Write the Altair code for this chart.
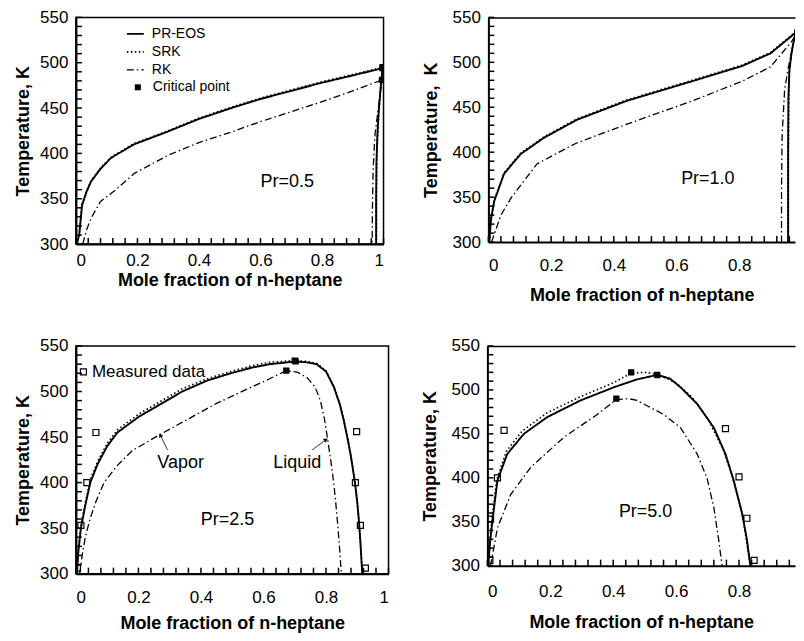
import math
import altair as alt
import pandas as pd

FONT = "Liberation Sans"
SERIES = ["PR-EOS", "SRK", "RK"]
DASHES = [[1, 0], [1.5, 2.5], [7, 3, 1.5, 3]]
WIDTHS = [1.9, 1.3, 1.3]
TICK_PX = 6

X_MAJOR = [0, 0.2, 0.4, 0.6, 0.8, 1.0]
X_MINOR = [0, 0.04, 0.08, 0.12, 0.16, 0.2, 0.24, 0.28, 0.32, 0.36, 0.4, 0.44, 0.48,
           0.52, 0.56, 0.6, 0.64, 0.68, 0.72, 0.76, 0.8, 0.84, 0.88, 0.92, 0.96, 1.0]
Y_MAJOR = [300, 350, 400, 450, 500, 550]
Y_MINOR = [300, 310, 320, 330, 340, 350, 360, 370, 380, 390, 400, 410, 420, 430, 440,
           450, 460, 470, 480, 490, 500, 510, 520, 530, 540, 550]

# ---------------- Pr = 0.5 ----------------
A_PR_X = [0.003, 0.011, 0.02, 0.035, 0.049, 0.08, 0.114, 0.189, 0.298, 0.4, 0.514, 0.6, 0.7, 0.8, 0.9, 0.997,
          0.99, 0.984, 0.98, 0.977, 0.976, 0.976]
A_PR_T = [300, 311, 343, 358, 369, 383, 395, 410, 424, 438, 451, 460, 469, 478, 486, 494,
          470, 445, 420, 390, 350, 300]
A_SRK_X = [0.003, 0.011, 0.02, 0.035, 0.05, 0.08, 0.115, 0.19, 0.3, 0.4, 0.515, 0.6, 0.7, 0.8, 0.9, 0.997,
           0.99, 0.985, 0.981, 0.978, 0.977, 0.977]
A_SRK_T = [300, 312, 344, 359, 370, 384, 396, 411, 425, 439, 452, 461, 470, 479, 487, 495,
           471, 446, 421, 391, 350, 300]
A_RK_X = [0.022, 0.035, 0.05, 0.08, 0.13, 0.19, 0.3, 0.4, 0.5, 0.6, 0.7, 0.8, 0.9, 0.995,
          0.985, 0.972, 0.966, 0.964, 0.963]
A_RK_T = [300, 316, 329, 347, 360, 378, 398, 412, 423, 435, 446, 457, 469, 481,
          455, 420, 380, 340, 300]
A_CRIT_X = [0.997, 0.997, 0.995]
A_CRIT_T = [494, 495, 481]

# ---------------- Pr = 1.0 ----------------
B_PR_X = [0.003, 0.008, 0.019, 0.05, 0.103, 0.177, 0.282, 0.44, 0.65, 0.81, 0.9, 0.98, 0.99,
          0.985, 0.979, 0.972, 0.966, 0.96, 0.957, 0.956, 0.956]
B_PR_T = [300, 325, 346, 376, 398, 416, 436, 457, 479, 496, 510, 533, 538,
          538, 531, 520, 508, 490, 460, 400, 300]
B_SRK_X = [0.003, 0.008, 0.019, 0.05, 0.103, 0.177, 0.282, 0.44, 0.65, 0.81, 0.9, 0.98, 0.99,
           0.985, 0.979, 0.972, 0.966, 0.96, 0.958, 0.957, 0.957]
B_SRK_T = [300, 326, 347, 377, 399, 417, 437, 458, 480, 497, 511, 534, 539,
           539, 532, 521, 509, 491, 461, 400, 300]
B_RK_X = [0.01, 0.019, 0.04, 0.072, 0.155, 0.28, 0.44, 0.65, 0.81, 0.9, 0.967, 0.985,
          0.979, 0.972, 0.956, 0.945, 0.943, 0.937, 0.935, 0.935]
B_RK_T = [300, 309, 330, 349, 387, 410, 431, 457, 479, 495, 523, 533,
          533, 520, 493, 470, 457, 420, 360, 300]
B_CRIT_X = [0.99, 0.99, 0.985]
B_CRIT_T = [538, 539, 533]

# ---------------- Pr = 2.5 ----------------
C_PR_X = [0.003, 0.008, 0.016, 0.03, 0.046, 0.069, 0.1, 0.133, 0.2, 0.28, 0.34, 0.42, 0.495, 0.56, 0.62, 0.703,
          0.74, 0.77, 0.8, 0.825, 0.845, 0.857, 0.868, 0.878, 0.886, 0.894, 0.9, 0.905, 0.91, 0.916]
C_PR_T = [300, 325, 350, 375, 400, 420, 440, 455, 472, 488, 500, 512, 520, 526, 530, 533,
          532, 530, 522, 505, 485, 468, 450, 432, 415, 396, 378, 359, 335, 300]
C_SRK_X = [0.003, 0.008, 0.016, 0.03, 0.046, 0.069, 0.1, 0.133, 0.2, 0.28, 0.34, 0.42, 0.495, 0.56, 0.62, 0.7,
           0.74, 0.77, 0.8, 0.825, 0.845, 0.857, 0.868, 0.878, 0.886, 0.894, 0.9, 0.905, 0.91, 0.916]
C_SRK_T = [300, 327, 353, 378, 403, 423, 443, 458, 475, 491, 503, 514, 522, 528, 532, 534,
           533, 531, 523, 506, 486, 469, 451, 433, 416, 397, 379, 360, 335, 300]
C_RK_X = [0.012, 0.02, 0.03, 0.045, 0.065, 0.09, 0.13, 0.18, 0.27, 0.35, 0.45, 0.55, 0.62, 0.673,
          0.71, 0.74, 0.765, 0.782, 0.795, 0.805, 0.815, 0.825, 0.832, 0.838, 0.844, 0.849]
C_RK_T = [300, 320, 340, 360, 380, 400, 418, 435, 453, 468, 487, 503, 514, 523,
          521, 515, 505, 490, 470, 448, 425, 399, 375, 352, 325, 300]
C_CRIT_X = [0.703, 0.7, 0.673]
C_CRIT_T = [533, 534, 523]
C_MEAS_X = [0.005, 0.016, 0.035, 0.064, 0.926, 0.91, 0.894, 0.898]
C_MEAS_T = [306, 353, 400, 455, 306, 353, 400, 456]

# ---------------- Pr = 5.0 ----------------
D_PR_X = [0.003, 0.008, 0.016, 0.032, 0.063, 0.116, 0.19, 0.296, 0.402, 0.476, 0.54,
          0.58, 0.614, 0.667, 0.72, 0.757, 0.783, 0.81, 0.825, 0.836]
D_PR_T = [300, 325, 351, 397, 427, 450, 469, 488, 503, 512, 517,
          513, 503, 484, 457, 427, 397, 359, 330, 300]
D_SRK_X = [0.003, 0.008, 0.015, 0.03, 0.06, 0.11, 0.19, 0.3, 0.4, 0.457, 0.5, 0.54, 0.6, 0.65, 0.7,
           0.75, 0.78, 0.81, 0.836]
D_SRK_T = [300, 330, 355, 398, 430, 453, 474, 493, 508, 519, 520, 518, 508, 492, 468,
           432, 400, 360, 300]
D_RK_X = [0.008, 0.011, 0.032, 0.074, 0.138, 0.243, 0.349, 0.41, 0.45, 0.476, 0.561, 0.614, 0.667, 0.698,
          0.72, 0.736, 0.746]
D_RK_T = [300, 302, 343, 381, 412, 446, 472, 489, 490, 488, 472, 457, 427, 400,
          366, 328, 300]
D_CRIT_X = [0.54, 0.457, 0.41]
D_CRIT_T = [517, 520, 490]
D_MEAS_X = [0.008, 0.01, 0.032, 0.053, 0.757, 0.8, 0.825, 0.848]
D_MEAS_T = [306, 353, 400, 454, 456, 401, 354, 306]

# panel labels
PR_LABELS = ["Pr=0.5", "Pr=1.0", "Pr=2.5", "Pr=5.0"]
PR_LABEL_X = [0.687, 0.70, 0.485, 0.503]
PR_LABEL_T = [369, 370, 359, 361]

# annotations in the Pr=2.5 panel
NOTE_TEXT = ["Vapor", "Liquid"]
NOTE_X = [0.335, 0.708]
NOTE_T = [421, 421]
ARROW_TAIL_X = [0.293, 0.756]
ARROW_TAIL_T = [436, 436]
ARROW_TIP_X = [0.27, 0.80]
ARROW_TIP_T = [452, 447]


def curve_frame(pr, srk, rk):
    rows = []
    for name, (xs, ts) in zip(SERIES, (pr, srk, rk)):
        for i, (x, t) in enumerate(zip(xs, ts)):
            rows.append({"series": name, "x": x, "T": t, "i": i})
    return pd.DataFrame(rows)


def panel(curves, crit, label_idx, w, h, xmax, right_open, lab_pad, title_pad, ytitle_pad, ytitle,
          legend_lines=False, legend_crit=False, measured=None, legend_measured=False, notes=False):
    xs = alt.Scale(domain=[0, xmax], nice=False, zero=False)
    ys = alt.Scale(domain=[300, 550], nice=False, zero=False)
    xmaj = [v for v in X_MAJOR if v <= xmax + 1e-9]
    xmin = [v for v in X_MINOR if v <= xmax + 1e-9]

    def X(field, axis=None):
        return alt.X(field, scale=xs, axis=axis)

    def Y(field, axis=None):
        return alt.Y(field, scale=ys, axis=axis)

    main_x = alt.Axis(orient="bottom", values=xmaj, format=".1~f", title="Mole fraction of n-heptane",
                      ticks=False, domain=True, domainWidth=2, domainColor="black",
                      labelPadding=lab_pad, titlePadding=title_pad, grid=False)
    main_y = alt.Axis(orient="left", values=Y_MAJOR, format="d", title=ytitle, ticks=False,
                      domain=True, domainWidth=2, domainColor="black",
                      labelPadding=8, titlePadding=ytitle_pad, grid=False)

    if legend_lines:
        dash_legend = alt.Legend(orient="none", legendX=50, legendY=7, title=None, padding=0,
                                 labelFont=FONT, labelFontSize=14, labelColor="black",
                                 symbolType="stroke", symbolSize=289, symbolStrokeWidth=1.4,
                                 symbolStrokeColor="black", labelOffset=7, rowPadding=1)
    else:
        dash_legend = None

    lines = alt.Chart(curves).mark_line(color="black", clip=True).encode(
        x=X("x:Q", main_x),
        y=Y("T:Q", main_y),
        strokeDash=alt.StrokeDash("series:N", scale=alt.Scale(domain=SERIES, range=DASHES),
                                  legend=dash_legend),
        strokeWidth=alt.StrokeWidth("series:N", scale=alt.Scale(domain=SERIES, range=WIDTHS),
                                    legend=None),
        order=alt.Order("i:Q"),
    )

    # inward minor ticks along the bottom and left edges (tick positions from the tick lists)
    xt_df = pd.DataFrame({"tx": xmin, "tT": [300.0] * len(xmin),
                          "tT2": [300 + TICK_PX * 250.0 / h] * len(xmin)})
    yt_df = pd.DataFrame({"tx": [0.0] * len(Y_MINOR), "tx2": [TICK_PX * xmax / w] * len(Y_MINOR),
                          "tT": [float(v) for v in Y_MINOR]})
    xticks = alt.Chart(xt_df).mark_rule(color="black", strokeWidth=1.5, opacity=1).encode(
        x=X("tx:Q"), y=Y("tT:Q"), y2="tT2:Q")
    yticks = alt.Chart(yt_df).mark_rule(color="black", strokeWidth=1.5, opacity=1).encode(
        x=X("tx:Q"), x2="tx2:Q", y=Y("tT:Q"))

    crit_df = pd.DataFrame({"x": crit[0], "T": crit[1], "kind": ["Critical point"] * len(crit[0])})
    crit_enc = dict(x=X("x:Q"), y=Y("T:Q"))
    if legend_crit:
        crit_enc["shape"] = alt.Shape("kind:N", scale=alt.Scale(range=["square"]),
                                      legend=alt.Legend(orient="none", legendX=55, legendY=63, title=None,
                                                        padding=0, labelFont=FONT, labelFontSize=14,
                                                        labelColor="black", symbolFillColor="black",
                                                        symbolStrokeColor="black", symbolSize=36,
                                                        labelOffset=8))
    crit_layer = alt.Chart(crit_df).mark_point(shape="square", filled=True, color="black", size=40,
                                               opacity=1, clip=True).encode(**crit_enc)

    top_axis = None
    if right_open:
        top_axis = alt.Axis(orient="top", labels=False, ticks=False, domain=True, domainWidth=1.5,
                            domainColor="black", title=None, grid=False)
    lab_df = pd.DataFrame({"x": [PR_LABEL_X[label_idx]], "T": [PR_LABEL_T[label_idx]],
                           "text": [PR_LABELS[label_idx]]})
    label_layer = alt.Chart(lab_df).mark_text(font=FONT, fontSize=18, color="black", align="center",
                                              baseline="middle").encode(
        x=X("x:Q", top_axis), y=Y("T:Q"), text="text:N")

    layers = [lines, crit_layer, label_layer]

    if measured is not None:
        m_df = pd.DataFrame({"x": measured[0], "T": measured[1], "kind": ["Measured data"] * len(measured[0])})
        m_enc = dict(x=X("x:Q"), y=Y("T:Q"))
        if legend_measured:
            m_enc["shape"] = alt.Shape("kind:N", scale=alt.Scale(range=["square"]),
                                       legend=alt.Legend(orient="none", legendX=-1, legendY=17.4, title=None,
                                                         padding=0, labelFont=FONT, labelFontSize=17,
                                                         labelColor="black", symbolStrokeColor="black",
                                                         symbolFillColor="white", symbolStrokeWidth=1.2,
                                                         symbolSize=36, labelOffset=0))
        layers.append(alt.Chart(m_df).mark_point(shape="square", filled=False, color="black", size=36,
                                                 strokeWidth=1.2, opacity=1, clip=True).encode(**m_enc))

    if notes:
        px_x = w / xmax
        px_t = h / 250.0
        angles = []
        for tx, tt, hx, ht in zip(ARROW_TAIL_X, ARROW_TAIL_T, ARROW_TIP_X, ARROW_TIP_T):
            dx = (hx - tx) * px_x
            dy = -(ht - tt) * px_t
            angles.append(math.degrees(math.atan2(dx, -dy)) % 360)
        n_df = pd.DataFrame({"x": NOTE_X, "T": NOTE_T, "text": NOTE_TEXT})
        a_df = pd.DataFrame({"x": ARROW_TAIL_X, "T": ARROW_TAIL_T, "x2": ARROW_TIP_X, "T2": ARROW_TIP_T,
                             "ang": angles})
        layers.append(alt.Chart(n_df).mark_text(font=FONT, fontSize=18, color="black", align="center",
                                                baseline="middle").encode(
            x=X("x:Q"), y=Y("T:Q"), text="text:N"))
        layers.append(alt.Chart(a_df).mark_rule(color="black", strokeWidth=0.8).encode(
            x=X("x:Q"), y=Y("T:Q"), x2="x2:Q", y2="T2:Q"))
        layers.append(alt.Chart(a_df).mark_point(shape="triangle-up", filled=True, color="black", size=22,
                                                 opacity=1).encode(
            x=X("x2:Q"), y=Y("T2:Q"), angle=alt.Angle("ang:Q", scale=None)))

    layers.append(xticks)
    layers.append(yticks)

    p = alt.layer(*layers).resolve_axis(x="independent", y="independent")
    props = dict(width=w, height=h)
    if right_open:
        props["view"] = alt.ViewBackground(stroke="transparent")
    return p.properties(**props)


pA = panel(curve_frame((A_PR_X, A_PR_T), (A_SRK_X, A_SRK_T), (A_RK_X, A_RK_T)), (A_CRIT_X, A_CRIT_T), 0,
           308, 227, 1.0, False, 8, 3, 7, "Temperature, K", legend_lines=True, legend_crit=True)
pB = panel(curve_frame((B_PR_X, B_PR_T), (B_SRK_X, B_SRK_T), (B_RK_X, B_RK_T)), (B_CRIT_X, B_CRIT_T), 1,
           307, 225, 0.978, True, 15.5, 12.5, 12, "Temperature,\u00a0\u00a0K")
pC = panel(curve_frame((C_PR_X, C_PR_T), (C_SRK_X, C_SRK_T), (C_RK_X, C_RK_T)), (C_CRIT_X, C_CRIT_T), 2,
           313, 228, 1.0, False, 16, 9, 7, "Temperature, K", measured=(C_MEAS_X, C_MEAS_T),
           legend_measured=True, notes=True)
pD = panel(curve_frame((D_PR_X, D_PR_T), (D_SRK_X, D_SRK_T), (D_RK_X, D_RK_T)), (D_CRIT_X, D_CRIT_T), 3,
           308, 220, 0.978, True, 17.5, 14.5, 12, "Temperature, K", measured=(D_MEAS_X, D_MEAS_T))

RES = dict(strokeDash="independent", strokeWidth="independent", shape="independent")
row1 = alt.hconcat(pA, pB, spacing=35).resolve_scale(**RES)
row2 = alt.hconcat(pC, pD, spacing=29).resolve_scale(**RES)

chart = (
    alt.vconcat(row1, row2, spacing=31)
    .resolve_scale(**RES)
    .properties(padding={"left": 5, "top": -1, "right": 0, "bottom": 0}, background="white")
    .configure(font=FONT)
    .configure_view(stroke="black", strokeWidth=1.5)
    .configure_axis(labelFont=FONT, labelFontSize=17, labelColor="black", titleFont=FONT,
                    titleFontSize=18, titleFontWeight="bold", titleColor="black")
)

chart.save("out.html", embed_options={"renderer": "svg", "actions": False})
